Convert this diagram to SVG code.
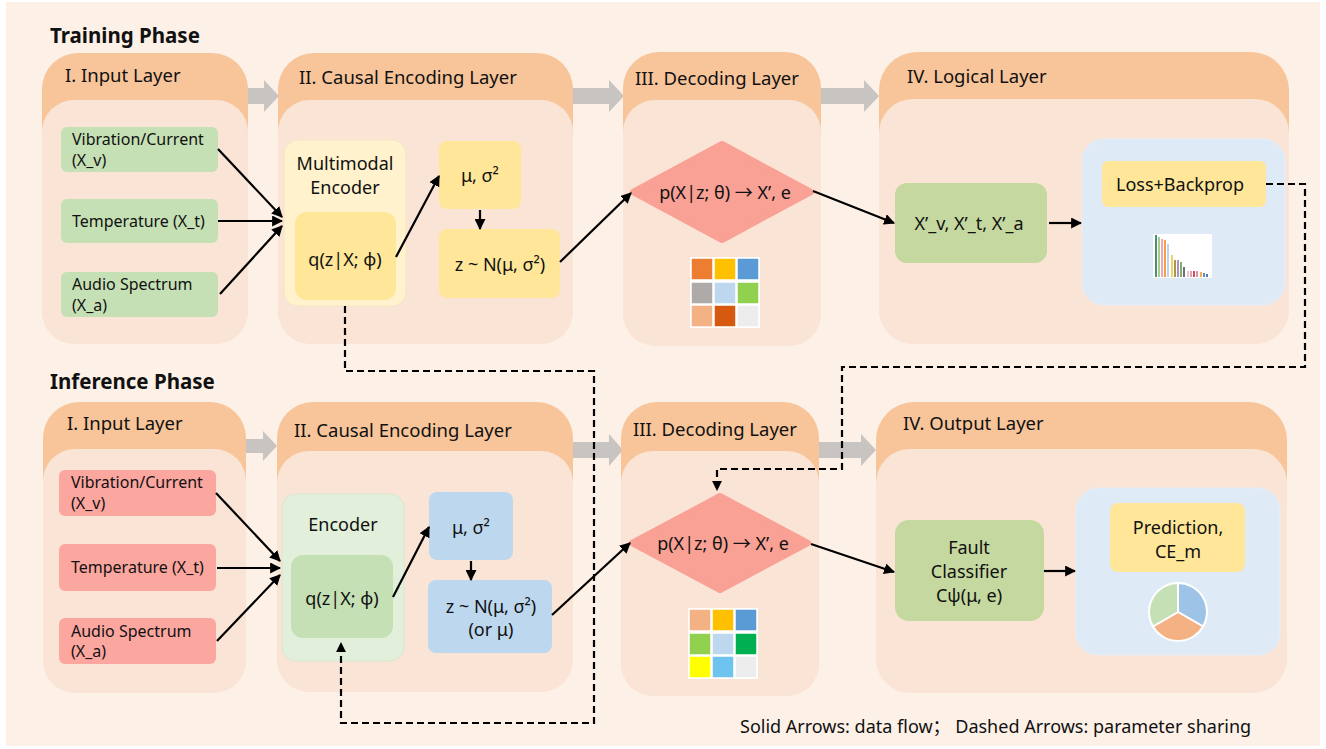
<svg xmlns="http://www.w3.org/2000/svg" width="1326" height="749" viewBox="0 0 1326 749">
<defs>
<style>
.t{font-family:"Noto Sans","Noto Sans CJK SC",sans-serif;fill:#111}
.ttl{font-size:18.5px}
.ph{font-size:20.5px;font-weight:bold}
.n{font-size:18px}
.ni{font-size:16px}
.hd{fill:#f8c59a}
.in{fill:#fae4d6}
.ga{fill:#c8c4c2}
.ar{stroke:#000;stroke-width:2.2;fill:none;marker-end:url(#ah)}
.ds{stroke:#000;stroke-width:2.2;fill:none;stroke-dasharray:7 4}
.cell{stroke:#fff;stroke-width:1.5}
</style>
<marker id="ah" viewBox="0 0 10 10" refX="9" refY="5" markerWidth="5" markerHeight="5" orient="auto"><path d="M0,0 L10,5 L0,10 z" fill="#000"/></marker>
<marker id="ahd" viewBox="0 0 10 10" refX="9" refY="5" markerWidth="4.5" markerHeight="4.5" orient="auto"><path d="M0,0 L10,5 L0,10 z" fill="#000"/></marker>
</defs>
<rect x="0" y="0" width="1326" height="749" fill="#fff"/>
<rect x="6" y="2" width="1314" height="744" fill="#fdf0e7"/>

<text class="t ph" x="50" y="43">Training Phase</text>
<text class="t ph" x="50" y="389">Inference Phase</text>

<!-- gray flow arrows -->
<g id="flow-arrows">
<path class="ga" d="M248,88 H264 V80 L279,96 L264,112 V104 H248 z"/>
<path class="ga" d="M573,88 H609 V80 L624,96 L609,112 V104 H573 z"/>
<path class="ga" d="M820,88 H864 V80 L879,96 L864,112 V104 H820 z"/>
<path class="ga" d="M246,439 H263 V431 L277,446 L263,461 V453 H246 z"/>
<path class="ga" d="M572,442 H609 V434 L623,450 L609,466 V458 H572 z"/>
<path class="ga" d="M819,442 H861 V434 L876,450 L861,466 V458 H819 z"/>
</g>

<!-- Training panels -->
<g id="t-input-panel">
<rect class="hd" x="42" y="53" width="206" height="291" rx="36"/>
<rect class="in" x="42" y="100" width="206" height="244" rx="32"/>
<text class="t ttl" x="65" y="82">I. Input Layer</text>
</g>
<g id="t-causal-panel">
<rect class="hd" x="278" y="53" width="295" height="291" rx="36"/>
<rect class="in" x="278" y="100" width="295" height="244" rx="32"/>
<text class="t ttl" x="299" y="84">II. Causal Encoding Layer</text>
</g>
<g id="t-decoding-panel">
<rect class="hd" x="623" y="52" width="198" height="294" rx="36"/>
<rect class="in" x="623" y="100" width="198" height="246" rx="32"/>
<text class="t ttl" x="635" y="85">III. Decoding Layer</text>
</g>
<g id="t-logical-panel">
<rect class="hd" x="879" y="52" width="410" height="292" rx="38"/>
<rect class="in" x="879" y="99" width="410" height="245" rx="34"/>
<text class="t ttl" x="907" y="83">IV. Logical Layer</text>
</g>

<!-- Inference panels -->
<g id="i-input-panel">
<rect class="hd" x="43" y="402" width="203" height="291" rx="36"/>
<rect class="in" x="43" y="449" width="203" height="244" rx="32"/>
<text class="t ttl" x="67" y="430">I. Input Layer</text>
</g>
<g id="i-causal-panel">
<rect class="hd" x="277" y="402" width="296" height="290" rx="36"/>
<rect class="in" x="277" y="451" width="296" height="241" rx="32"/>
<text class="t ttl" x="294" y="437">II. Causal Encoding Layer</text>
</g>
<g id="i-decoding-panel">
<rect class="hd" x="621" y="402" width="198" height="294" rx="36"/>
<rect class="in" x="621" y="451" width="198" height="245" rx="32"/>
<text class="t ttl" x="633" y="436">III. Decoding Layer</text>
</g>
<g id="i-output-panel">
<rect class="hd" x="876" y="402" width="411" height="291" rx="38"/>
<rect class="in" x="876" y="449" width="411" height="244" rx="34"/>
<text class="t ttl" x="903" y="430">IV. Output Layer</text>
</g>

<!-- Training nodes -->
<g id="t-vib">
<rect x="61" y="127" width="157" height="45" rx="6" fill="#c5e0b4"/>
<text class="t ni" x="72" y="145">Vibration/Current</text>
<text class="t ni" x="72" y="166">(X_v)</text>
</g>
<g id="t-temp">
<rect x="61" y="199" width="157" height="44" rx="6" fill="#c5e0b4"/>
<text class="t ni" x="72" y="227">Temperature (X_t)</text>
</g>
<g id="t-audio">
<rect x="61" y="272" width="157" height="45" rx="6" fill="#c5e0b4"/>
<text class="t ni" x="72" y="290">Audio Spectrum</text>
<text class="t ni" x="72" y="311">(X_a)</text>
</g>
<g id="t-encoder">
<rect x="284" y="140" width="122" height="166" rx="14" fill="#fff2cc" stroke="#f6e6c4" stroke-width="1"/>
<text class="t n" x="345" y="170" text-anchor="middle">Multimodal</text>
<text class="t n" x="345" y="194" text-anchor="middle">Encoder</text>
<rect x="295" y="212" width="101" height="88" rx="12" fill="#ffe699"/>
<text class="t n" x="345" y="266" text-anchor="middle">q(z|X; φ)</text>
</g>
<g id="t-mu">
<rect x="439" y="141" width="82" height="68" rx="8" fill="#ffe699"/>
<text class="t n" x="480" y="182" text-anchor="middle">μ, σ²</text>
</g>
<g id="t-z">
<rect x="439" y="229" width="121" height="69" rx="8" fill="#ffe699"/>
<text class="t n" x="500" y="271" text-anchor="middle">z ~ N(μ, σ²)</text>
</g>
<g id="t-decoder">
<path d="M722,144 L811,192 L722,240 L633,192 Z" fill="#f9a194" stroke="#f9a194" stroke-width="6" stroke-linejoin="round"/>
<text class="t n" x="725" y="199" text-anchor="middle">p(X|z; θ) → X’, e</text>
</g>
<g id="t-matrix">
<rect x="690" y="257" width="70" height="71" fill="#fff" opacity="0.8"/>
<rect class="cell" x="691" y="258" width="22" height="22" fill="#ed7d31"/>
<rect class="cell" x="714" y="258" width="22" height="22" fill="#ffc000"/>
<rect class="cell" x="737" y="258" width="22" height="22" fill="#5b9bd5"/>
<rect class="cell" x="691" y="282" width="22" height="22" fill="#aeaaaa"/>
<rect class="cell" x="714" y="282" width="22" height="22" fill="#bdd7ee"/>
<rect class="cell" x="737" y="282" width="22" height="22" fill="#92d050"/>
<rect class="cell" x="691" y="305" width="22" height="22" fill="#f4b183"/>
<rect class="cell" x="714" y="305" width="22" height="22" fill="#d55a10"/>
<rect class="cell" x="737" y="305" width="22" height="22" fill="#ededed"/>
</g>
<g id="t-recon">
<rect x="895" y="183" width="152" height="80" rx="12" fill="#c5d89f"/>
<text class="t n" x="969" y="230" text-anchor="middle">X’_v, X’_t, X’_a</text>
</g>
<g id="t-loss-panel">
<rect x="1082" y="139" width="203" height="166" rx="22" fill="#deebf7" stroke="#e6eef8" stroke-width="1"/>
<rect x="1102" y="161" width="164" height="46" rx="6" fill="#ffe699"/>
<text class="t n" x="1180" y="191" text-anchor="middle">Loss+Backprop</text>
<rect x="1153" y="234" width="59" height="44" fill="#fff"/>
<g id="bars">
<rect x="1155" y="235" width="2" height="42" fill="#4e8f6d"/>
<rect x="1158" y="237" width="2" height="40" fill="#9fd08f"/>
<rect x="1161" y="239" width="2" height="38" fill="#f4a6b0"/>
<rect x="1164" y="240" width="2" height="37" fill="#f0a050"/>
<rect x="1167" y="244" width="2" height="33" fill="#b8d4f0"/>
<rect x="1171" y="255" width="2" height="22" fill="#f0d060"/>
<rect x="1174" y="260" width="2" height="17" fill="#a89a40"/>
<rect x="1177" y="260" width="2" height="17" fill="#b090c0"/>
<rect x="1180" y="262" width="2" height="15" fill="#80b070"/>
<rect x="1183" y="267" width="2" height="10" fill="#707070"/>
<rect x="1187" y="271" width="2" height="6" fill="#f4c0d0"/>
<rect x="1190" y="271" width="2" height="6" fill="#e0a0b0"/>
<rect x="1193" y="271" width="2" height="6" fill="#d05060"/>
<rect x="1196" y="271" width="2" height="6" fill="#e090a0"/>
<rect x="1200" y="272" width="2" height="5" fill="#f0b060"/>
<rect x="1203" y="273" width="2" height="4" fill="#6090c0"/>
<rect x="1206" y="274" width="2" height="3" fill="#5080b0"/>
</g>
</g>

<!-- Inference nodes -->
<g id="i-vib">
<rect x="59" y="470" width="157" height="46" rx="6" fill="#fca6a0"/>
<text class="t ni" x="71" y="488">Vibration/Current</text>
<text class="t ni" x="71" y="509">(X_v)</text>
</g>
<g id="i-temp">
<rect x="59" y="544" width="157" height="47" rx="6" fill="#fca6a0"/>
<text class="t ni" x="71" y="573">Temperature (X_t)</text>
</g>
<g id="i-audio">
<rect x="59" y="618" width="157" height="46" rx="6" fill="#fca6a0"/>
<text class="t ni" x="71" y="637">Audio Spectrum</text>
<text class="t ni" x="71" y="657">(X_a)</text>
</g>
<g id="i-encoder">
<rect x="282" y="494" width="122" height="167" rx="14" fill="#e2efda" stroke="#d9e8cf" stroke-width="1"/>
<text class="t n" x="343" y="531" text-anchor="middle">Encoder</text>
<rect x="291" y="555" width="102" height="83" rx="12" fill="#c5e0b4"/>
<text class="t n" x="342" y="605" text-anchor="middle">q(z|X; φ)</text>
</g>
<g id="i-mu">
<rect x="429" y="492" width="84" height="68" rx="8" fill="#bdd7ee"/>
<text class="t n" x="471" y="534" text-anchor="middle">μ, σ²</text>
</g>
<g id="i-z">
<rect x="428" y="580" width="124" height="73" rx="8" fill="#bdd7ee"/>
<text class="t n" x="491" y="613" text-anchor="middle">z ~ N(μ, σ²)</text>
<text class="t n" x="491" y="636" text-anchor="middle">(or μ)</text>
</g>
<g id="i-decoder">
<path d="M720,496 L808,543 L720,590 L632,543 Z" fill="#f9a194" stroke="#f9a194" stroke-width="6" stroke-linejoin="round"/>
<text class="t n" x="723" y="550" text-anchor="middle">p(X|z; θ) → X’, e</text>
</g>
<g id="i-matrix">
<rect x="688" y="608" width="70" height="71" fill="#fff" opacity="0.8"/>
<rect class="cell" x="689" y="609" width="22" height="22" fill="#f4b183"/>
<rect class="cell" x="712" y="609" width="22" height="22" fill="#ffc000"/>
<rect class="cell" x="735" y="609" width="22" height="22" fill="#5b9bd5"/>
<rect class="cell" x="689" y="633" width="22" height="22" fill="#92d050"/>
<rect class="cell" x="712" y="633" width="22" height="22" fill="#bdd7ee"/>
<rect class="cell" x="735" y="633" width="22" height="22" fill="#00b050"/>
<rect class="cell" x="689" y="656" width="22" height="22" fill="#ffff00"/>
<rect class="cell" x="712" y="656" width="22" height="22" fill="#6fc3ef"/>
<rect class="cell" x="735" y="656" width="22" height="22" fill="#ededed"/>
</g>
<g id="i-classifier">
<rect x="895" y="520" width="149" height="101" rx="14" fill="#c5d89f"/>
<text class="t n" x="969" y="554" text-anchor="middle">Fault</text>
<text class="t n" x="969" y="578" text-anchor="middle">Classifier</text>
<text class="t n" x="969" y="602" text-anchor="middle">Cψ(μ, e)</text>
</g>
<g id="i-output">
<rect x="1076" y="488" width="204" height="167" rx="22" fill="#deebf7" stroke="#e6eef8" stroke-width="1"/>
<rect x="1110" y="503" width="135" height="69" rx="8" fill="#ffe699"/>
<text class="t n" x="1178" y="534" text-anchor="middle">Prediction,</text>
<text class="t n" x="1178" y="558" text-anchor="middle">CE_m</text>
<g id="pie" stroke="#fff" stroke-width="2" stroke-linejoin="round">
<path d="M1178,612 L1178,583 A29,29 0 0 1 1203.1,626.5 Z" fill="#9dc3e6"/>
<path d="M1178,612 L1203.1,626.5 A29,29 0 0 1 1152.9,626.5 Z" fill="#f4b183"/>
<path d="M1178,612 L1152.9,626.5 A29,29 0 0 1 1178,583 Z" fill="#c5e0b4"/>
</g>
</g>

<!-- connectors -->
<g id="connectors">
<path class="ar" d="M218,149 L282,217"/>
<path class="ar" d="M218,221 L282,221"/>
<path class="ar" d="M220,294 L282,226"/>
<path class="ar" d="M396,257 L439,176"/>
<path class="ar" d="M480,210 L480,229"/>
<path class="ar" d="M560,262 L631,193"/>
<path class="ar" d="M813,191 L894,223"/>
<path class="ar" d="M1049,223 L1081,223"/>

<path class="ar" d="M216,493 L280,561"/>
<path class="ar" d="M217,568 L280,568"/>
<path class="ar" d="M217,641 L280,575"/>
<path class="ar" d="M393,597 L429,527"/>
<path class="ar" d="M471,561 L471,580"/>
<path class="ar" d="M552,615 L630,543"/>
<path class="ar" d="M811,544 L894,572"/>
<path class="ar" d="M1044,571 L1075,571"/>

<path class="ds" d="M1266,184 H1305 V367 H842 V469 H717 V490" marker-end="url(#ahd)"/>
<path class="ds" d="M345,306 V371 H594 V723 H341 V643" marker-end="url(#ahd)"/>
</g>

<text class="t" x="740" y="733" font-size="18">Solid Arrows: data flow；  Dashed Arrows: parameter sharing</text>
</svg>
